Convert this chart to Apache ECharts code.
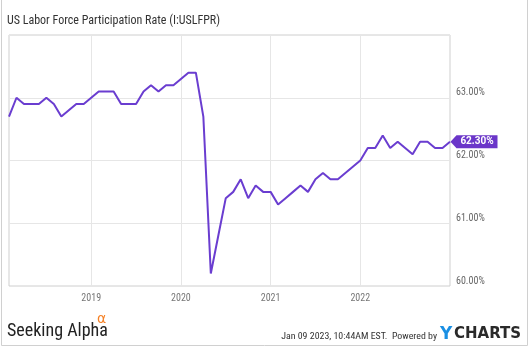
<!DOCTYPE html>
<html>
<head>
<meta charset="utf-8">
<script src="https://cdn.jsdelivr.net/npm/echarts@6/dist/echarts.min.js"></script>
<style>html,body{margin:0;padding:0;background:#fff}#c{width:529px;height:347px}</style>
</head>
<body>
<div id="c"></div>
<script>
// Monthly observations Jan 2018 .. Dec 2022 (plotted at month end)
const months = [
  '2018-01','2018-02','2018-03','2018-04','2018-05','2018-06','2018-07','2018-08','2018-09','2018-10','2018-11','2018-12',
  '2019-01','2019-02','2019-03','2019-04','2019-05','2019-06','2019-07','2019-08','2019-09','2019-10','2019-11','2019-12',
  '2020-01','2020-02','2020-03','2020-04','2020-05','2020-06','2020-07','2020-08','2020-09','2020-10','2020-11','2020-12',
  '2021-01','2021-02','2021-03','2021-04','2021-05','2021-06','2021-07','2021-08','2021-09','2021-10','2021-11','2021-12',
  '2022-01','2022-02','2022-03','2022-04','2022-05','2022-06','2022-07','2022-08','2022-09','2022-10','2022-11','2022-12'
];
const lfpr = [
  62.7,63.0,62.9,62.9,62.9,63.0,62.9,62.7,62.8,62.9,62.9,63.0,
  63.1,63.1,63.1,62.9,62.9,62.9,63.1,63.2,63.1,63.2,63.2,63.3,
  63.4,63.4,62.7,60.2,60.8,61.4,61.5,61.7,61.4,61.6,61.5,61.5,
  61.3,61.4,61.5,61.6,61.5,61.7,61.8,61.7,61.7,61.8,61.9,62.0,
  62.2,62.2,62.4,62.2,62.3,62.2,62.1,62.3,62.3,62.2,62.2,62.3
];
const yearTicks = [12, 24, 36, 48];          // month-end index at each new year
const yearLabels = ['2019', '2020', '2021', '2022'];
const yTicks = [60, 61, 62, 63, 64];
const lastLabel = '62.30%';

const narrow = '"Liberation Sans Narrow","Roboto Condensed",Roboto,sans-serif';
const seriesData = lfpr.map((v, i) => [i + 1, v]);
const lastPoint = seriesData[seriesData.length - 1];
const purple = '#6a3dd0';

const chart = echarts.init(document.getElementById('c'), null, {renderer: 'canvas'});
chart.setOption({
  animation: false,
  backgroundColor: '#fff',
  grid: {left: 9, right: 79, top: 35, bottom: 61, show: true, borderColor: '#cfcfcf', borderWidth: 1, backgroundColor: 'transparent'},
  xAxis: {
    type: 'value', min: 1, max: 60,
    axisLine: {show: false},
    axisTick: {show: false, customValues: yearTicks},
    axisLabel: {customValues: yearTicks, formatter: v => yearLabels[yearTicks.indexOf(v)] || '', color: '#777', fontSize: 10, fontFamily: narrow, margin: 7},
    splitLine: {show: true, lineStyle: {color: '#e6e6e6', width: 1}}
  },
  yAxis: {
    type: 'value', position: 'right', min: yTicks[0], max: yTicks[yTicks.length - 1], interval: 1,
    axisLine: {show: false}, axisTick: {show: false},
    axisLabel: {formatter: v => v === 64 ? '' : v.toFixed(2) + '%', color: '#666', fontSize: 10, fontFamily: narrow, margin: 6, verticalAlign: 'bottom', lineHeight: 10},
    splitLine: {show: true, lineStyle: {color: '#e6e6e6', width: 1}}
  },
  series: [{
    type: 'line', data: seriesData, showSymbol: false, smooth: false,
    lineStyle: {color: purple, width: 2}, itemStyle: {color: purple},
    markPoint: {
      silent: true,
      data: [{coord: lastPoint, value: lastLabel}],
      symbol: 'path://M0,6.5 L6,0 L47,0 L47,13 L6,13 Z',
      symbolSize: [47, 13], symbolKeepAspect: false, symbolOffset: [24, 0],
      itemStyle: {color: '#6b36c9'},
      label: {show: true, position: 'inside', offset: [3, 0], formatter: lastLabel, color: '#fff', fontWeight: 'bold', fontSize: 10, fontFamily: 'Roboto,sans-serif'}
    }
  }],
  graphic: [
    {type: 'polyline', silent: true, shape: {points: [[1.5, 0], [1.5, 345.5], [527.5, 345.5], [527.5, 0]]}, style: {fill: null, stroke: '#d0d0d0', lineWidth: 1}},
    {type: 'text', left: 7, top: 15, style: {text: 'US Labor Force Participation Rate (I:USLFPR)', font: '12px ' + narrow, fill: '#333'}},
    {type: 'text', left: 7, top: 322, style: {text: 'Seeking Alpha', font: '18px ' + narrow, fill: '#222'}},
    {type: 'text', left: 97, top: 312, style: {text: 'α', font: '14px "DejaVu Sans",sans-serif', fill: '#f58025'}},
    {type: 'text', x: 437, y: 337, style: {text: 'Jan 09 2023, 10:44AM EST.  Powered by', font: '9.9px ' + narrow, fill: '#333', align: 'right', verticalAlign: 'middle'}},
    {type: 'text', left: 440, top: 326, style: {text: 'Y', font: 'bold 17px "DejaVu Sans",sans-serif', fill: '#1a8fe3'}},
    {type: 'text', left: 454, top: 327, style: {text: 'CHARTS', font: 'bold 15px "DejaVu Sans",sans-serif', fill: '#2a2a2a'}}
  ]
});
</script>
</body>
</html>
